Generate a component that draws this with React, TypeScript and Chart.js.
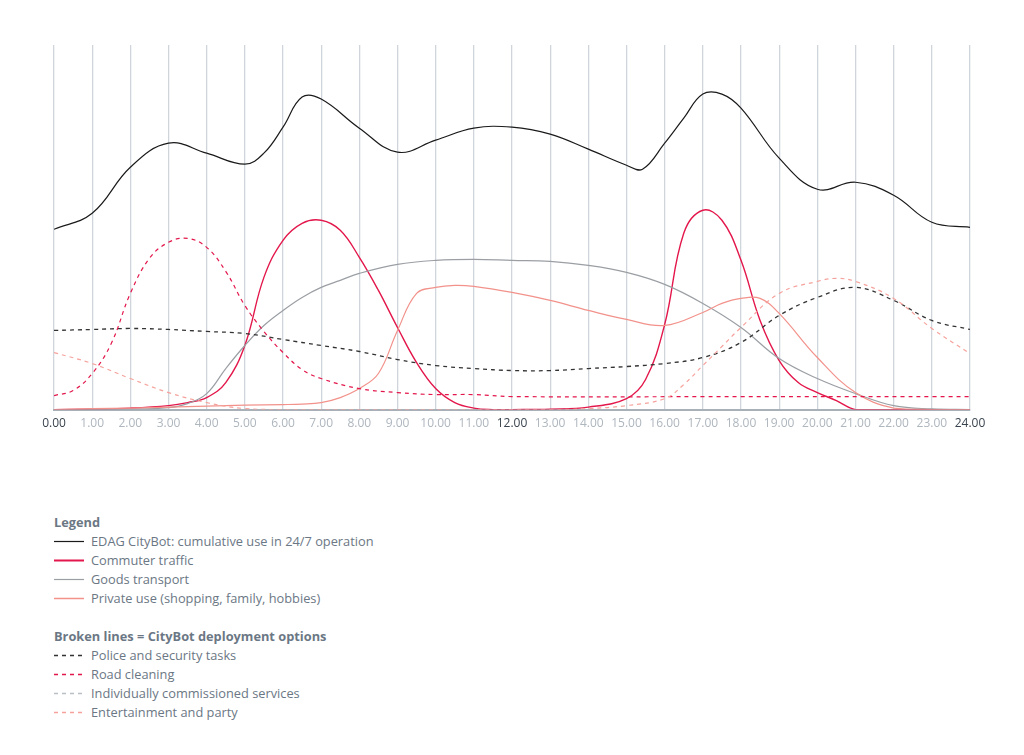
import React, { useEffect, useRef } from "react";
import { Chart, registerables } from "chart.js";

Chart.register(...registerables);

type Pt = [number, number];

// Hours (x) and usage level (y, 0..364) for each series
const cumulative: Pt[] = [
  [0, 180], [1, 196], [2, 242], [3, 266], [4, 256], [5, 245], [5.5, 256], [6, 282], [6.5, 312], [7, 310],
  [8, 281], [9, 257], [10, 269], [11, 281], [12, 282], [13, 275], [14, 260], [15, 244],
  [15.42, 240], [16, 266], [16.5, 291], [17, 315], [17.5, 315], [18, 301], [19, 251],
  [20, 220], [21, 227], [22, 214], [23, 187], [24, 182],
];
const commuter: Pt[] = [
  [0, 0], [1, 0.5], [2, 1.5], [3, 4], [3.5, 7], [4, 12], [4.5, 27], [5, 64], [5.5, 132],
  [6, 169], [6.5, 186], [7, 189], [7.5, 179], [8, 152], [8.5, 119], [9, 82], [9.5, 47],
  [10, 21], [10.5, 7], [11, 1.5], [11.5, 0], [12, 0], [13, 0.5], [14, 2.5], [15, 11], [15.5, 30],
  [16, 85], [16.5, 176], [17, 199], [17.5, 189], [18, 149], [18.5, 89],
  [19, 49], [19.5, 27], [20, 17], [20.5, 9], [21, 0], [22, 0], [24, 0],
];
const goods: Pt[] = [
  [0, 0], [2, 0.5], [3, 2], [3.5, 6], [4, 16], [4.5, 41], [5, 64], [5.5, 84], [6, 99],
  [6.5, 112], [7, 122], [7.5, 129], [8, 136], [9, 145], [10, 149], [11, 150], [12, 149], [13, 148], [14, 144],
  [15, 137], [16, 125], [17, 106], [18, 82], [19, 51], [20, 31], [21, 16], [22, 4],
  [23, 0.7], [24, 0],
];
const privateUse: Pt[] = [
  [0, 0], [1, 1], [2, 1.5], [3, 2.5], [4, 3.5], [5, 4.5], [6, 5], [6.5, 5.5], [7, 7],
  [7.5, 12], [8, 21], [8.5, 36], [9, 79], [9.5, 116], [10, 122], [10.5, 124], [11, 123],
  [12, 117], [13, 109], [14, 99], [15, 90], [16, 84], [17, 97], [17.5, 106], [18, 111],
  [18.5, 111], [19, 96], [20, 52], [21, 17], [22, 1.5], [23, 0], [24, 0],
];
const police: Pt[] = [
  [0, 79], [1, 80], [2, 81], [3, 80], [4, 78], [5, 76], [6, 70], [7, 64], [8, 58], [9, 50],
  [10, 44], [11, 41], [12, 39], [13, 39], [14, 41], [15, 43], [16, 46], [17, 52], [18, 67],
  [19, 94], [20, 112], [21, 122], [22, 109], [23, 89], [24, 80],
];
const roadCleaning: Pt[] = [
  [0, 14], [0.5, 19], [1, 36], [1.5, 66], [2, 116], [2.5, 151], [3, 167], [3.5, 171],
  [4, 162], [4.5, 138], [5, 104], [5.5, 78], [6, 57], [6.5, 40], [7, 31], [8, 21], [9, 17],
  [10, 15], [11, 15], [12, 13], [18, 13], [24, 13],
];
const entertainment: Pt[] = [
  [0, 57], [1, 46], [2, 31], [3, 17], [4, 7], [5, 1], [6, 0], [10, 0], [13, 0], [14, 1], [15, 4],
  [16, 11], [16.5, 25], [17, 44], [17.5, 63], [18, 82], [19, 116], [20, 128], [20.5, 131],
  [21, 128], [22, 111], [23, 81], [24, 56],
];

const X_MIN = 0;
const X_MAX = 24;
const Y_MAX = 364;

const TEXT = "#6b7784";
const FONT = "'Open Sans', 'Noto Sans', sans-serif";

const solidLegend = [
  { label: "EDAG CityBot: cumulative use in 24/7 operation", color: "#1a1a1a", width: 1.2 },
  { label: "Commuter traffic", color: "#e3174b", width: 2 },
  { label: "Goods transport", color: "#9b9fa4", width: 1.2 },
  { label: "Private use (shopping, family, hobbies)", color: "#f2928b", width: 1.5 },
];
const dashedLegend = [
  { label: "Police and security tasks", color: "#333333" },
  { label: "Road cleaning", color: "#e3174b" },
  { label: "Individually commissioned services", color: "#b9bfc5" },
  { label: "Entertainment and party", color: "#f6a29c" },
];

const toXY = (pts: Pt[]) => pts.map(([x, y]) => ({ x, y }));

function Swatch({ color, width, dashed }: { color: string; width: number; dashed?: boolean }) {
  return (
    <svg width={30} height={19} style={{ display: "block", flex: "0 0 30px" }}>
      <line
        x1={0}
        y1={9.5}
        x2={30}
        y2={9.5}
        stroke={color}
        strokeWidth={width}
        strokeDasharray={dashed ? "4 4" : undefined}
      />
    </svg>
  );
}

export default function App() {
  const ref = useRef<HTMLCanvasElement | null>(null);

  useEffect(() => {
    if (!ref.current) return;
    const base = {
      pointRadius: 0,
      pointHoverRadius: 0,
      fill: false,
      tension: 0.4,
    };
    const chart = new Chart(ref.current, {
      type: "line",
      data: {
        datasets: [
          { ...base, label: "Entertainment", data: toXY(entertainment), borderColor: "#f6a29c", borderWidth: 1.2, borderDash: [4, 4] },
          { ...base, label: "Road cleaning", data: toXY(roadCleaning), borderColor: "#e3174b", borderWidth: 1.2, borderDash: [4, 4] },
          { ...base, label: "Police", data: toXY(police), borderColor: "#333333", borderWidth: 1.3, borderDash: [4, 4] },
          { ...base, label: "Private", data: toXY(privateUse), borderColor: "#f2928b", borderWidth: 1.2 },
          { ...base, label: "Goods", data: toXY(goods), borderColor: "#9b9fa4", borderWidth: 1.2 },
          { ...base, label: "Commuter", data: toXY(commuter), borderColor: "#e3174b", borderWidth: 1.4 },
          { ...base, label: "Cumulative", data: toXY(cumulative), borderColor: "#1a1a1a", borderWidth: 1.2 },
        ],
      },
      options: {
        animation: false,
        responsive: false,
        maintainAspectRatio: false,
        layout: { padding: { left: 46, right: 46, top: 37, bottom: 10 } },
        plugins: { legend: { display: false }, tooltip: { enabled: false } },
        scales: {
          x: {
            type: "linear",
            min: X_MIN,
            max: X_MAX,
            grid: { color: "#cfd5db", lineWidth: 1.3, drawTicks: false },
            border: { display: true, color: "#a8b0b8", width: 2 },
            ticks: {
              stepSize: 1,
              padding: 7,
              font: { family: FONT, size: 12 },
              color: (ctx: any) => (ctx.tick && ctx.tick.value % 12 === 0 ? "#3a444e" : "#aeb6be"),
              callback: (v: any) => Number(v).toFixed(2),
              maxRotation: 0,
              autoSkip: false,
            },
          },
          y: { display: false, min: 0, max: Y_MAX },
        },
      },
    });
    return () => chart.destroy();
  }, []);

  return (
    <div style={{ position: "relative", width: 1008, height: 739, fontFamily: FONT }}>
      <canvas ref={ref} width={1008} height={440} style={{ display: "block", width: 1008, height: 440 }} />
      <div style={{ position: "absolute", left: 46, top: 504.5, color: TEXT, fontSize: 12.8, lineHeight: "19px" }}>
        <div style={{ fontWeight: 700, height: 19 }}>Legend</div>
        {solidLegend.map((s) => (
          <div key={s.label} style={{ display: "flex", alignItems: "center", height: 19 }}>
            <Swatch color={s.color} width={s.width} />
            <span style={{ marginLeft: 7, whiteSpace: "nowrap" }}>{s.label}</span>
          </div>
        ))}
        <div style={{ height: 19 }} />
        <div style={{ fontWeight: 700, height: 19 }}>Broken lines = CityBot deployment options</div>
        {dashedLegend.map((s) => (
          <div key={s.label} style={{ display: "flex", alignItems: "center", height: 19 }}>
            <Swatch color={s.color} width={1.5} dashed />
            <span style={{ marginLeft: 7, whiteSpace: "nowrap" }}>{s.label}</span>
          </div>
        ))}
      </div>
    </div>
  );
}
